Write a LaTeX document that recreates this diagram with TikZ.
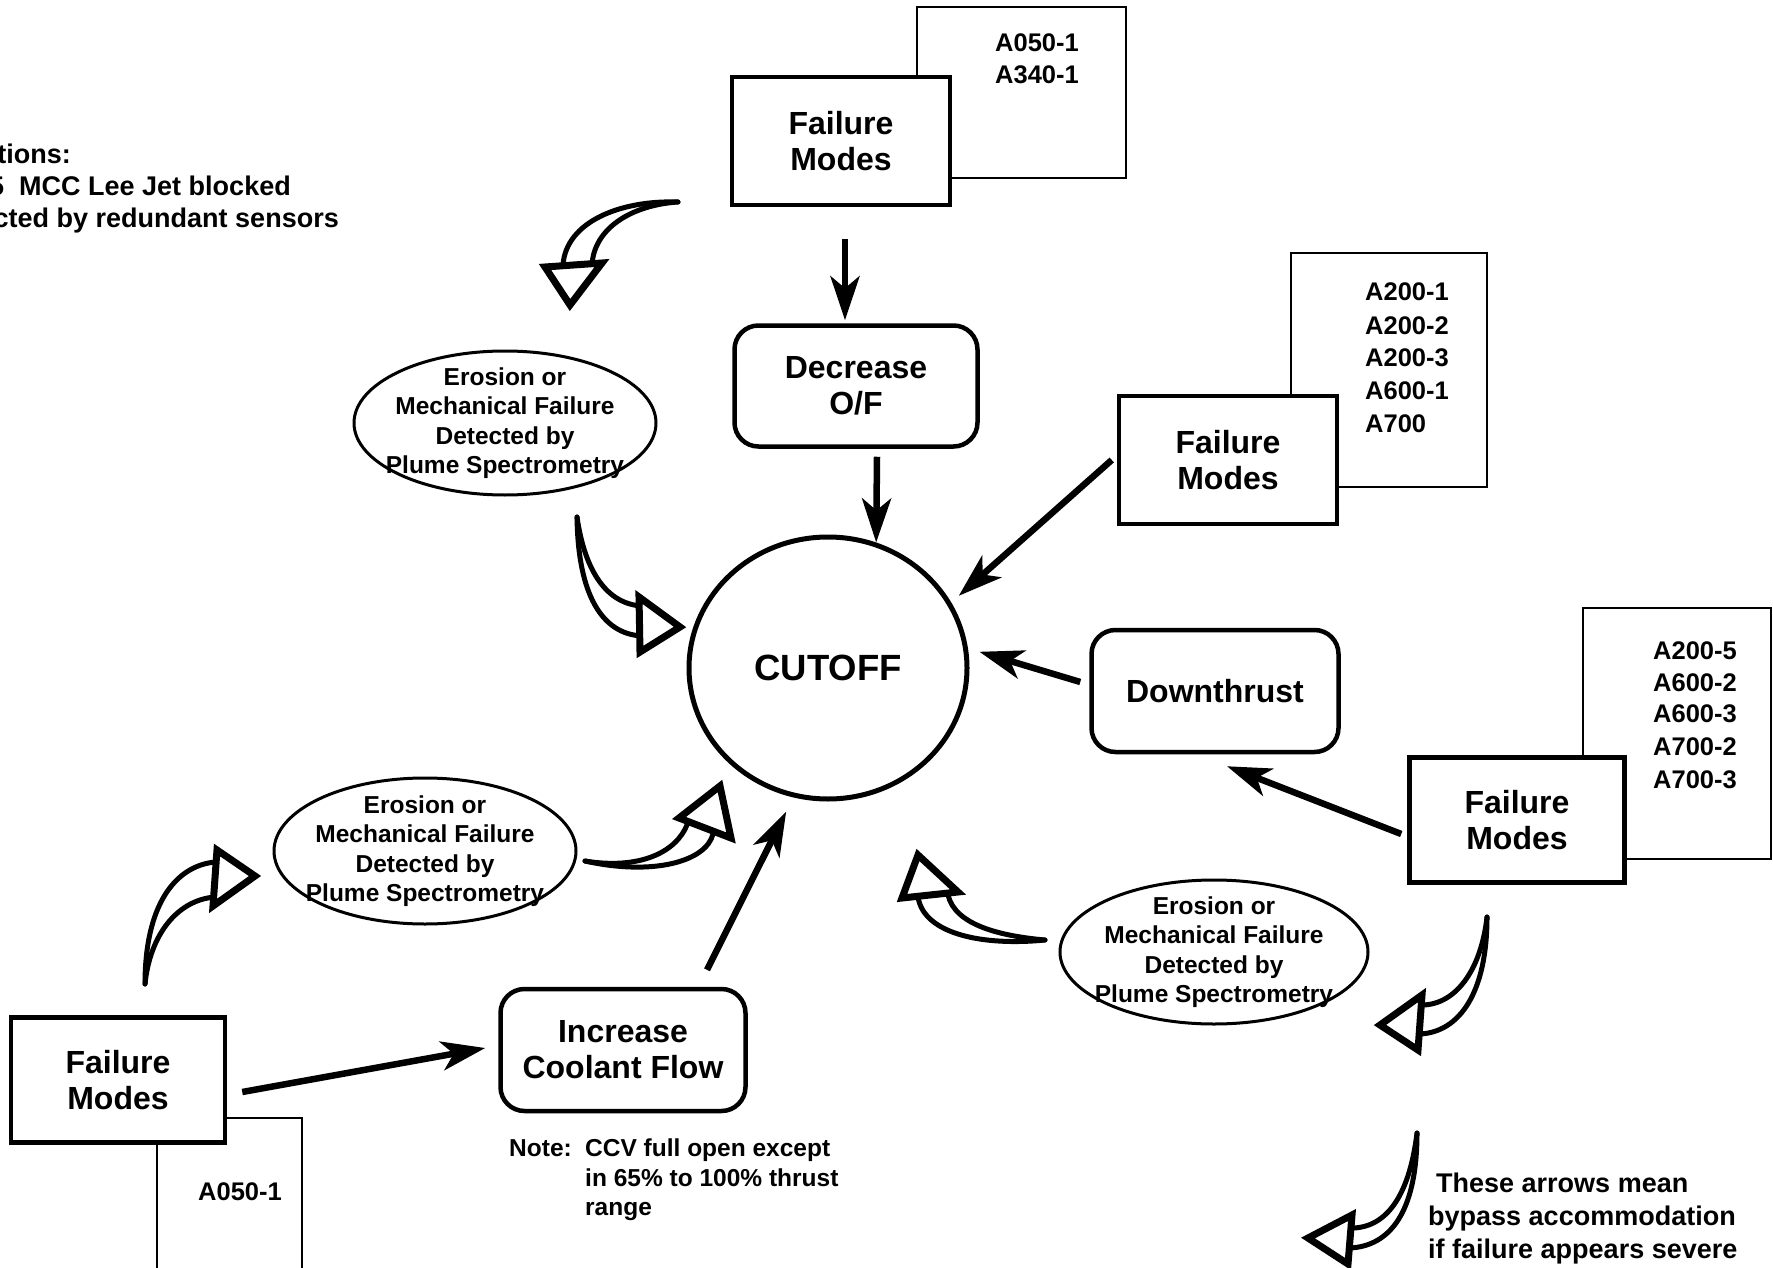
\documentclass[tikz,border=0pt]{standalone}
\usepackage{fontspec}
\setmainfont{Liberation Sans}
\usetikzlibrary{shapes.geometric, arrows.meta}
\begin{document}
\begin{tikzpicture}[x=1pt,y=-1pt,
  fm/.style={draw, line width=4.5pt, fill=white, minimum width=218pt, minimum height=128pt, inner sep=0pt, align=center, font=\fontsize{32}{36}\selectfont\bfseries},
  doc/.style={draw, line width=2.5pt, fill=white, inner sep=0pt},
  rbox/.style={draw, line width=4.5pt, rounded corners=24pt, fill=white, minimum width=245pt, minimum height=122pt, inner sep=0pt, align=center, font=\fontsize{32}{36}\selectfont\bfseries},
  ell/.style={ellipse, draw, line width=3pt, fill=white, inner xsep=-25pt, inner ysep=-15pt, minimum width=302pt, minimum height=144pt, align=center, font=\fontsize{24.5}{29.5}\selectfont\bfseries},
  lst/.style={inner sep=0pt, anchor=base west, font=\fontsize{25.5}{30}\selectfont\bfseries},
  txt/.style={inner sep=0pt, font=\fontsize{27}{30}\selectfont\bfseries},
  notetxt/.style={inner sep=0pt, anchor=base west, font=\fontsize{24.5}{30}\selectfont\bfseries},
  legtxt/.style={inner sep=0pt, anchor=base west, font=\fontsize{27}{32}\selectfont\bfseries},
  arr/.style={line width=6.5pt, -{Stealth[length=44pt,width=29pt,inset=12pt]}},
  hshaft/.style={line width=5pt, line cap=round},
  hhead/.style={line width=7pt, fill=white, line join=miter}
]
\useasboundingbox (0,0) rectangle (1773,1268);

% top-left text, cropped by the picture edge as in the original
\node[txt, anchor=base east] (tl1) at (71,164) {tions:};
\node[txt, anchor=base east] (tl2) at (291,196) {5\ \ MCC Lee Jet blocked};
\node[txt, anchor=base east] (tl3) at (339,228) {cted by redundant sensors};

% failure modes groups
\node[doc, minimum width=209pt, minimum height=171pt] (D1) at (1021.5,92.5) {};
\node[lst] (L1a) at (995,52) {A050-1};
\node[lst] (L1b) at (995,84) {A340-1};
\node[fm] (FM1) at (841,141) {Failure\\Modes};

\node[doc, minimum width=196pt, minimum height=234pt] (D2) at (1389,370) {};
\node[lst] (L2a) at (1365,301) {A200-1};
\node[lst] (L2b) at (1365,334) {A200-2};
\node[lst] (L2c) at (1365,366) {A200-3};
\node[lst] (L2d) at (1365,399) {A600-1};
\node[lst] (L2e) at (1365,432) {A700};
\node[fm] (FM2) at (1228,460) {Failure\\Modes};

\node[doc, minimum width=188pt, minimum height=251pt] (D3) at (1677,733.5) {};
\node[lst] (L3a) at (1653,659) {A200-5};
\node[lst] (L3b) at (1653,691) {A600-2};
\node[lst] (L3c) at (1653,722) {A600-3};
\node[lst] (L3d) at (1653,755) {A700-2};
\node[lst] (L3e) at (1653,788) {A700-3};
\node[fm, minimum width=215pt, minimum height=125pt] (FM3) at (1517,820) {Failure\\Modes};

\node[doc, minimum width=145pt, minimum height=190pt] (D4) at (229.5,1213) {};
\node[lst] (L4a) at (198,1200) {A050-1};
\node[fm, minimum width=214pt, minimum height=125pt] (FM4) at (118,1080) {Failure\\Modes};

% process boxes
\node[rbox, minimum width=243pt, minimum height=121pt] (Dec) at (856,386) {Decrease\\O/F};
\node[rbox, minimum width=247pt] (Down) at (1215,691) {Downthrust};
\node[rbox] (Inc) at (623,1050) {Increase\\Coolant Flow};

% cutoff
\node[ellipse, draw, line width=5pt, minimum width=278pt, minimum height=262pt, inner sep=0pt, font=\fontsize{36.5}{40}\selectfont\bfseries] (Cut) at (828,668) {CUTOFF};

% ellipses
\node[ell] (E1) at (505,423) {Erosion or\\Mechanical Failure\\Detected by\\Plume Spectrometry};
\node[ell, minimum height=146pt] (E2) at (425,851) {Erosion or\\Mechanical Failure\\Detected by\\Plume Spectrometry};
\node[ell, minimum width=308pt] (E3) at (1214,952) {Erosion or\\Mechanical Failure\\Detected by\\Plume Spectrometry};

% straight arrows
\draw[arr] ([xshift=4pt,yshift=-32pt]FM1.south) -- ([xshift=-11pt,yshift=3pt]Dec.north);
\draw[arr] ([xshift=21pt,yshift=-8pt]Dec.south) -- (Cut.69);
\draw[arr, shorten >=10pt] ([xshift=-5pt]FM2.west) -- (Cut.28);
\draw[arr, shorten >=12pt] ([xshift=-9pt,yshift=9pt]Down.west) -- (Cut.8);
\draw[arr] ([xshift=-6pt,yshift=-14pt]FM3.west) -- ([xshift=12pt,yshift=-12pt]Down.south);
\draw[arr] ([xshift=15pt,yshift=-12pt]FM4.east) -- ([xshift=-13pt,yshift=2pt]Inc.west);
\draw[arr, shorten >=16pt] ([xshift=84pt,yshift=17pt]Inc.north) -- (Cut.255);

% hollow (bypass) arrows
\draw[hshaft] (678,202) .. controls (620,200) and (566,222) .. (563,265);
\draw[hshaft] (678,202) .. controls (632,205) and (594,228) .. (592,265);
\draw[hhead] (545,267) -- (602,263) -- (570,305) -- cycle;

\draw[hshaft] (577,517) .. controls (578,595) and (602,634) .. (642,636);
\draw[hshaft] (577,517) .. controls (585,572) and (607,604) .. (642,606);
\draw[hhead] (639,597) -- (640,652) -- (680,627) -- cycle;

\draw[hshaft] (585,861) .. controls (640,870) and (676,852) .. (687,825);
\draw[hshaft] (585,861) .. controls (652,876) and (706,862) .. (713,834);
\draw[hhead] (679,818) -- (731,838) -- (720,786) -- cycle;

\draw[hshaft] (145,984) .. controls (145,905) and (175,866) .. (215,862);
\draw[hshaft] (145,984) .. controls (150,935) and (177,900) .. (215,897);
\draw[hhead] (217,850) -- (213,906) -- (255,876) -- cycle;

\draw[hshaft] (1045,940) .. controls (985,946) and (924,935) .. (918,897);
\draw[hshaft] (1045,940) .. controls (1000,936) and (955,925) .. (948,895);
\draw[hhead] (902,898) -- (958,892) -- (918,855) -- cycle;

\draw[hshaft] (1487,917) .. controls (1487,992) and (1460,1032) .. (1420,1034);
\draw[hshaft] (1487,917) .. controls (1481,970) and (1456,1004) .. (1423,1005);
\draw[hhead] (1422,995) -- (1418,1050) -- (1380,1025) -- cycle;

\draw[hshaft] (1417,1133) .. controls (1417,1212) and (1390,1246) .. (1350,1248);
\draw[hshaft] (1417,1133) .. controls (1410,1190) and (1390,1226) .. (1354,1228);
\draw[hhead] (1352,1215) -- (1348,1264) -- (1308,1238) -- cycle;

% notes
\node[notetxt] (n0) at (509,1156) {Note:};
\node[notetxt] (n1) at (585,1156) {CCV full open except};
\node[notetxt] (n2) at (585,1186) {in 65\% to 100\% thrust};
\node[notetxt] (n3) at (585,1215) {range};

\node[legtxt] (g1) at (1436,1192) {These arrows mean};
\node[legtxt] (g2) at (1428,1225) {bypass accommodation};
\node[legtxt] (g3) at (1428,1258) {if failure appears severe};
\end{tikzpicture}
\end{document}
